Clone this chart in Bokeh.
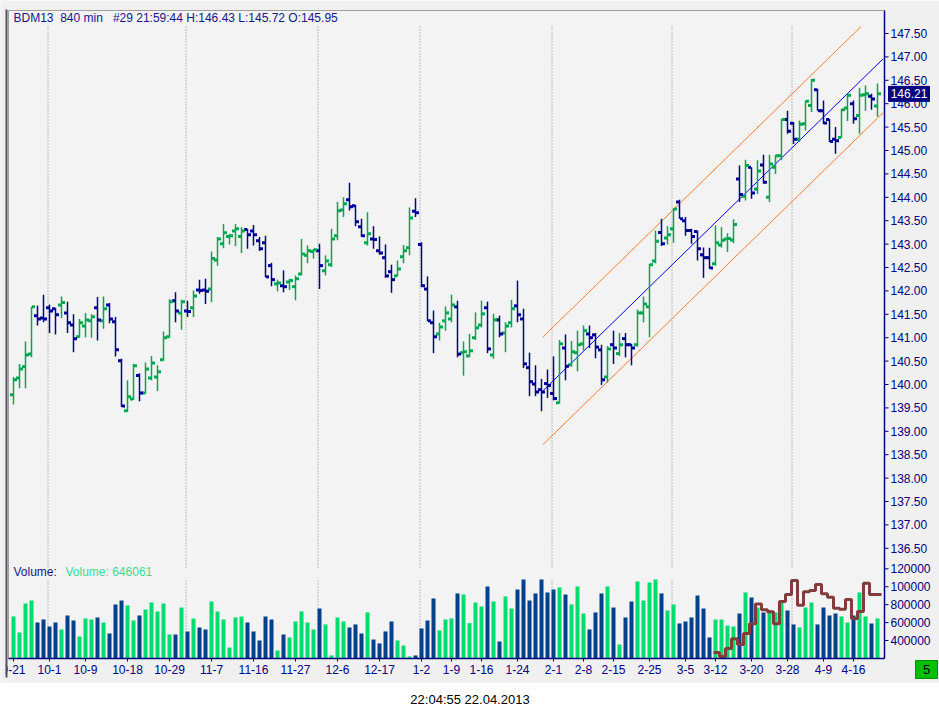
import numpy as np
from bokeh.plotting import figure
from bokeh.models import Range1d, ColumnDataSource, Div
from bokeh.core.properties import value
from bokeh.layouts import column
from bokeh.embed import file_html
from bokeh.resources import INLINE

# ---------------- data ----------------
tick_idx = [0, 6, 12, 19, 26, 33, 40, 47, 54, 61, 68, 73, 78, 84, 90, 95, 100, 106, 112, 117, 123, 129, 135, 140]
tick_labels = ["9-21", "10-1", "10-9", "10-18", "10-29", "11-7", "11-16", "11-27", "12-6", "12-17",
               "1-2", "1-9", "1-16", "1-24", "2-1", "2-8", "2-15", "2-25", "3-5", "3-12", "3-20",
               "3-28", "4-9", "4-16"]
month_start = [6, 29, 51, 68, 90, 110, 130]

opens = [139.78, 140.14, 140.38, 140.65, 141.47, 141.42, 141.64, 141.62, 141.70, 141.53,
         141.27, 141.02, 141.25, 141.36, 141.64, 141.36, 141.70, 141.34, 140.51, 139.44,
         139.69, 140.19, 139.82, 140.14, 140.16, 140.53, 141.02, 141.79, 141.53, 141.57,
         141.64, 142.02, 142.02, 142.04, 142.66, 143.01, 143.16, 143.28, 143.16, 143.31,
         143.28, 143.07, 143.03, 142.54, 142.15, 142.11, 142.19, 142.09, 142.36, 142.76,
         142.84, 142.86, 142.43, 142.56, 143.18, 143.73, 143.95, 143.82, 143.37, 143.03,
         143.11, 142.86, 142.71, 142.41, 142.32, 142.73, 142.92, 143.70, 142.99, 142.04,
         141.32, 141.08, 141.36, 141.40, 141.66, 140.68, 140.61, 141.00, 141.27, 141.64,
         140.63, 141.38, 141.10, 141.32, 141.68, 141.40, 140.36, 140.01, 139.89, 140.02,
         139.81, 139.61, 140.78, 140.42, 140.68, 140.87, 141.08, 141.06, 140.74, 140.16,
         140.85, 140.66, 140.98, 140.85, 140.85, 141.53, 141.66, 142.64, 143.25, 143.13,
         143.33, 143.90, 143.50, 143.29, 143.27, 142.77, 142.71, 142.58, 142.98, 143.11,
         143.09, 144.39, 144.02, 144.64, 144.18, 144.69, 144.00, 144.64, 144.89, 145.66,
         145.58, 145.24, 145.57, 145.96, 146.30, 145.85, 145.66, 145.24, 145.28, 145.91,
         146.00, 145.75, 146.19, 146.16, 145.95]
highs = [140.16, 140.44, 140.92, 141.66, 141.69, 141.92, 141.71, 141.64, 141.88, 141.77,
         141.50, 141.40, 141.53, 141.50, 141.87, 141.88, 141.74, 141.44, 140.55, 140.09,
         140.44, 140.24, 140.47, 140.61, 140.41, 141.13, 141.82, 141.97, 141.81, 141.79,
         142.01, 142.24, 142.26, 142.84, 143.15, 143.43, 143.22, 143.43, 143.36, 143.33,
         143.41, 143.15, 143.18, 142.60, 142.24, 142.44, 142.26, 142.33, 143.11, 142.97,
         142.90, 143.01, 142.76, 143.33, 143.90, 144.00, 144.31, 143.84, 143.54, 143.68,
         143.38, 143.16, 142.99, 142.56, 142.65, 142.98, 143.78, 143.98, 143.04, 142.31,
         141.58, 141.32, 141.67, 141.92, 141.79, 140.92, 141.08, 141.54, 141.79, 141.77,
         141.51, 141.47, 141.33, 141.81, 142.22, 141.62, 140.68, 140.41, 140.12, 140.32,
         140.60, 140.95, 141.07, 140.93, 141.15, 141.26, 141.26, 141.10, 140.85, 140.82,
         141.15, 141.10, 141.10, 140.87, 141.60, 141.88, 142.58, 143.29, 143.54, 143.38,
         143.77, 143.95, 143.58, 143.33, 143.29, 142.93, 142.92, 143.40, 143.36, 143.23,
         143.53, 144.68, 144.80, 144.64, 144.79, 144.91, 144.91, 144.91, 145.68, 145.85,
         145.61, 145.64, 146.07, 146.53, 146.32, 146.07, 145.68, 145.50, 145.89, 146.21,
         146.07, 146.34, 146.39, 146.21, 146.43]
lows = [139.57, 139.92, 139.92, 140.58, 141.26, 141.33, 141.10, 141.07, 141.42, 141.10,
        140.69, 141.00, 141.01, 141.00, 140.94, 141.19, 141.31, 140.60, 139.52, 139.41,
        139.67, 139.64, 139.80, 140.09, 139.86, 140.51, 141.00, 141.33, 141.17, 141.44,
        141.44, 141.94, 141.72, 141.76, 142.54, 142.91, 142.99, 142.96, 142.81, 142.90,
        142.97, 142.85, 142.29, 142.10, 141.99, 141.97, 142.02, 141.80, 142.33, 142.59,
        142.69, 142.04, 142.33, 142.51, 143.08, 143.58, 143.72, 143.38, 143.15, 142.97,
        142.90, 142.77, 142.28, 141.96, 142.31, 142.59, 142.76, 143.58, 142.08, 141.35,
        140.67, 140.94, 141.15, 141.33, 140.58, 140.19, 140.58, 140.95, 141.22, 140.67,
        140.55, 141.01, 140.69, 141.22, 141.33, 140.35, 139.75, 139.75, 139.43, 139.71,
        139.66, 139.59, 140.09, 140.38, 140.28, 140.73, 140.78, 140.56, 139.99, 140.04,
        140.44, 140.61, 140.58, 140.41, 140.81, 141.33, 141.01, 142.59, 142.96, 142.99,
        143.03, 143.54, 143.18, 143.01, 142.65, 142.28, 142.47, 142.54, 142.93, 142.83,
        143.02, 143.90, 143.93, 143.97, 144.07, 144.29, 143.90, 144.50, 144.79, 145.36,
        145.14, 145.18, 145.43, 145.82, 145.85, 145.56, 145.18, 144.93, 145.27, 145.63,
        145.57, 145.36, 145.85, 145.87, 145.72]
closes = [140.10, 140.33, 140.63, 141.66, 141.40, 141.40, 141.57, 141.49, 141.75, 141.32,
          140.98, 141.32, 141.38, 141.45, 141.38, 141.62, 141.40, 140.74, 139.54, 139.74,
          140.40, 139.82, 140.33, 140.46, 140.27, 141.00, 141.77, 141.57, 141.77, 141.56,
          141.89, 142.01, 141.99, 142.69, 143.11, 143.24, 143.18, 143.33, 143.28, 143.20,
          143.20, 142.90, 142.30, 142.24, 142.17, 142.09, 142.22, 142.26, 142.79, 142.86,
          142.88, 142.54, 142.64, 143.11, 143.71, 143.86, 143.80, 143.48, 143.18, 143.22,
          143.10, 142.81, 142.32, 142.24, 142.47, 142.86, 143.56, 143.67, 142.11, 141.36,
          141.02, 141.23, 141.53, 141.70, 140.65, 140.70, 140.72, 141.21, 141.51, 140.76,
          141.38, 141.08, 141.25, 141.62, 141.49, 140.44, 140.06, 139.84, 139.84, 139.98,
          139.70, 140.87, 140.39, 140.70, 140.85, 141.15, 141.00, 140.80, 140.10, 140.76,
          140.78, 140.85, 140.85, 140.78, 141.53, 141.72, 142.56, 143.06, 143.01, 143.20,
          143.75, 143.54, 143.29, 143.16, 142.90, 142.71, 142.49, 143.03, 143.08, 143.12,
          143.42, 144.06, 144.68, 144.09, 144.56, 144.32, 144.71, 144.89, 145.66, 145.41,
          145.24, 145.56, 146.05, 146.50, 145.85, 145.59, 145.19, 145.21, 145.87, 146.18,
          145.68, 146.18, 146.21, 146.10, 146.21]
volume = [668000, 489000, 813000, 846000, 601000, 634000, 556000, 601000, 523000, 679000,
          623000, 445000, 646000, 634000, 657000, 601000, 478000, 802000, 846000, 791000,
          623000, 679000, 746000, 824000, 724000, 813000, 467000, 467000, 768000, 501000,
          646000, 545000, 523000, 835000, 724000, 634000, 322000, 657000, 668000, 601000,
          501000, 400000, 668000, 634000, 288000, 467000, 434000, 612000, 724000, 601000,
          523000, 757000, 579000, 233000, 657000, 612000, 545000, 579000, 478000, 713000,
          411000, 367000, 501000, 612000, 400000, 344000, 222000, 233000, 534000, 623000,
          869000, 512000, 634000, 646000, 925000, 913000, 594000, 824000, 780000, 1003000,
          835000, 389000, 891000, 757000, 969000, 1081000, 846000, 925000, 1081000, 936000,
          969000, 992000, 913000, 802000, 1003000, 701000, 523000, 713000, 925000, 1003000,
          768000, 355000, 657000, 835000, 1059000, 846000, 1047000, 1081000, 925000, 735000,
          802000, 590000, 612000, 657000, 902000, 757000, 434000, 634000, 634000, 567000,
          556000, 701000, 936000, 880000, 768000, 713000, 735000, 713000, 824000, 735000,
          579000, 545000, 768000, 824000, 579000, 768000, 679000, 701000, 668000, 601000,
          679000, 936000, 668000, 590000, 646061]
# brown step indicator in the volume pane, bars 117..144
ind_start = 117
ind_values = [266000, 222000, 311000, 419000, 355000, 478000, 586000, 806000, 742000, 720000,
              586000, 835000, 913000, 1070000, 794000, 943000, 958000, 1025000, 921000, 884000,
              761000, 750000, 858000, 646000, 724000, 1040000, 913000, 913000]
# regression channel
chan_x = [88.2, 144.95]
chan_mid = [139.86, 146.96]
chan_off = 1.15

price_ticks = [136.5, 137.0, 137.5, 138.0, 138.5, 139.0, 139.5, 140.0, 140.5, 141.0, 141.5,
               142.0, 142.5, 143.0, 143.5, 144.0, 144.5, 145.0, 145.5, 146.0, 146.5, 147.0, 147.5]
vol_ticks = [400000, 600000, 800000, 1000000, 1200000]
vol_tick_labels = ["400000", "600000", "800000", "100000", "120000"]

title_text = "BDM13\u00a0\u00a0840 min\u00a0\u00a0\u00a0#29 21:59:44 H:146.43 L:145.72 O:145.95"
footer_text = "22:04:55 22.04.2013"

# ---------------- pixel layout (screen -> data mapping) ----------------
W, H = 939, 683
SX0, DX = 13.0, 6.0          # screen x of bar 0, px per bar
SY0, PPU = 33.0, 46.8        # screen y of 147.50, px per price unit
VY0, VPX = 640.0, 11161.0    # screen y of 400000 volume, volume per px
def sx(px): return (px - SX0) / DX
def sy(py): return 147.5 - (py - SY0) / PPU
def svy(py): return 400000 + (VY0 - py) * VPX

X_LO, X_AXIS = sx(8), sx(884)
P_TOP, P_BOT = sy(10), sy(658)
V_BOT = svy(658)

UP, DOWN = "#00A650", "#000096"
VUP, VDOWN = "#00DC6E", "#00408C"
NAVY = "#000080"
FONT = "Liberation Sans"

n = len(opens)
idx = np.arange(n)
o = np.array(opens); c = np.array(closes)
up = c >= o
pcol = [UP if u else DOWN for u in up]
vcol = [VUP if u else VDOWN for u in up]
src = ColumnDataSource(dict(x=idx, xo=idx - 2 / DX, xc=idx + 2 / DX, o=opens, h=highs, l=lows,
                            c=closes, v=volume, pcol=pcol, vcol=vcol))

p = figure(width=W, height=H, x_range=Range1d(sx(0), sx(W)), y_range=Range1d(sy(H), sy(0)),
           output_backend="svg", toolbar_location=None, title=None,
           min_border=0, min_border_left=0, min_border_right=0, min_border_top=0, min_border_bottom=0,
           background_fill_color="#F0F0F0", border_fill_color="#F0F0F0", outline_line_color=None)
p.extra_y_ranges = {"vol": Range1d(svy(H), svy(0))}
p.axis.visible = False
p.grid.visible = False

# chart frame
p.quad(left=[X_LO], right=[X_AXIS], top=[P_TOP], bottom=[P_BOT], fill_color="#F3F3F3",
       line_color="#A0A0A0", line_width=1)

# dotted month separators (price pane and volume pane)
ms = np.array(month_start) - 0.25
k = len(ms)
p.segment(x0=ms, x1=ms, y0=[sy(26)] * k, y1=[sy(567)] * k, line_color="#808080", line_width=1, line_dash="1 2")
p.segment(x0=ms, x1=ms, y0=[sy(580)] * k, y1=[P_BOT] * k, line_color="#808080", line_width=1, line_dash="1 2")

# volume bars
p.vbar(x="x", top="v", bottom=V_BOT, width=4 / DX, fill_color="vcol", line_color=None,
       y_range_name="vol", source=src)

# indicator step line
ix = list(np.arange(ind_start, ind_start + len(ind_values)) - 2 / DX) + [ind_start + len(ind_values) - 1 + 4 / DX]
iy = ind_values + [ind_values[-1]]
p.step(x=ix, y=iy, mode="after", line_color="#823C3C", line_width=3, y_range_name="vol")

# regression channel
mid = np.array(chan_mid)
slope = (mid[1] - mid[0]) / (chan_x[1] - chan_x[0])
p.line(chan_x, list(mid - chan_off), line_color="#FF7A30", line_width=1)
up0 = mid[0] + chan_off
x_up_end = min(chan_x[1], chan_x[0] + (sy(26) - up0) / slope)
p.line([chan_x[0], x_up_end], [up0, up0 + slope * (x_up_end - chan_x[0])], line_color="#FF7A30", line_width=1)
p.line(chan_x, chan_mid, line_color="#0000FF", line_width=1)

# OHLC bars
p.segment(x0="x", x1="x", y0="l", y1="h", line_color="pcol", line_width=1.5, source=src)
p.scatter(x="xo", y="o", marker="square", size=3, fill_color="pcol", line_color=None, source=src)
p.scatter(x="xc", y="c", marker="square", size=3, fill_color="pcol", line_color=None, source=src)

# axes (drawn as glyphs)
p.segment(x0=[X_AXIS], x1=[X_AXIS], y0=[P_TOP], y1=[P_BOT], line_color=NAVY, line_width=1.5)
p.segment(x0=[X_LO], x1=[X_AXIS], y0=[P_BOT], y1=[P_BOT], line_color=NAVY, line_width=1.5)
# price ticks/labels
pt = np.array(price_ticks)
p.segment(x0=[X_AXIS] * len(pt), x1=[X_AXIS + 4 / DX] * len(pt), y0=pt, y1=pt, line_color=NAVY, line_width=1)
p.text(x=[X_AXIS] * len(pt), y=pt, text=["%.2f" % t for t in pt], x_offset=6,
       text_font=value(FONT), text_font_size="12px", text_color=NAVY,
       text_align="left", text_baseline="middle")
# volume ticks/labels
vt = np.array(vol_ticks, dtype=float)
p.segment(x0=[X_AXIS] * len(vt), x1=[X_AXIS + 4 / DX] * len(vt), y0=vt, y1=vt, line_color=NAVY,
          line_width=1, y_range_name="vol")
p.text(x=[X_AXIS] * len(vt), y=vt, text=vol_tick_labels, x_offset=6, y_range_name="vol",
       text_font=value(FONT), text_font_size="12px", text_color=NAVY,
       text_align="left", text_baseline="middle")
# x ticks/labels
tx = np.array(tick_idx, dtype=float)
p.segment(x0=tx, x1=tx, y0=[P_BOT] * len(tx), y1=[sy(661)] * len(tx), line_color=NAVY, line_width=1)
p.text(x=tx, y=[sy(669)] * len(tx), text=tick_labels, text_font=value(FONT), text_font_size="12px",
       text_color=NAVY, text_align="center", text_baseline="middle")

# left panel edge (clips the first date label like the original)
p.quad(left=[sx(0)], right=[sx(5)], top=[sy(0)], bottom=[sy(H)], fill_color="#F0F0F0", line_color=None)
p.segment(x0=[sx(6)], x1=[sx(6)], y0=[sy(9)], y1=[sy(677)], line_color="#505060", line_width=2)

# pane titles
p.text(x=[sx(13)], y=[sy(17)], text=[title_text], text_font=value(FONT), text_font_size="12px",
       text_color="#16168C", text_align="left", text_baseline="middle")
p.text(x=[sx(13)], y=[sy(571)], text=["Volume:"], text_font=value(FONT), text_font_size="12px",
       text_color="#16168C", text_align="left", text_baseline="middle")
p.text(x=[sx(65)], y=[sy(571)], text=["Volume: %d" % volume[-1]], text_font=value(FONT),
       text_font_size="12px", text_color="#3CDC8C", text_align="left", text_baseline="middle")

# last price marker on the axis
lp = closes[-1]
p.quad(left=[sx(888)], right=[sx(929)], top=[lp + 7.5 / PPU], bottom=[lp - 7.5 / PPU],
       fill_color=NAVY, line_color=NAVY)
p.text(x=[sx(908.5)], y=[lp], text=["%.2f" % lp], text_font=value(FONT), text_font_size="12px",
       text_color="white", text_align="center", text_baseline="middle")

# small green box bottom-right
p.quad(left=[sx(915)], right=[sx(937)], top=[sy(660)], bottom=[sy(678)], fill_color="#00C000",
       line_color="#009000")
p.text(x=[sx(926)], y=[sy(669)], text=["5"], text_font=value(FONT), text_font_size="13px",
       text_color="black", text_align="center", text_baseline="middle")

footer = Div(text='<div style="text-align:center;font-family:\'Liberation Sans\',Arial,sans-serif;'
                  'font-size:13px;line-height:24px;color:#000;width:930px;">' + footer_text + '</div>',
             width=W, height=35)

layout = column(p, footer, spacing=0)
open("out.html", "w").write(file_html(layout, INLINE))
